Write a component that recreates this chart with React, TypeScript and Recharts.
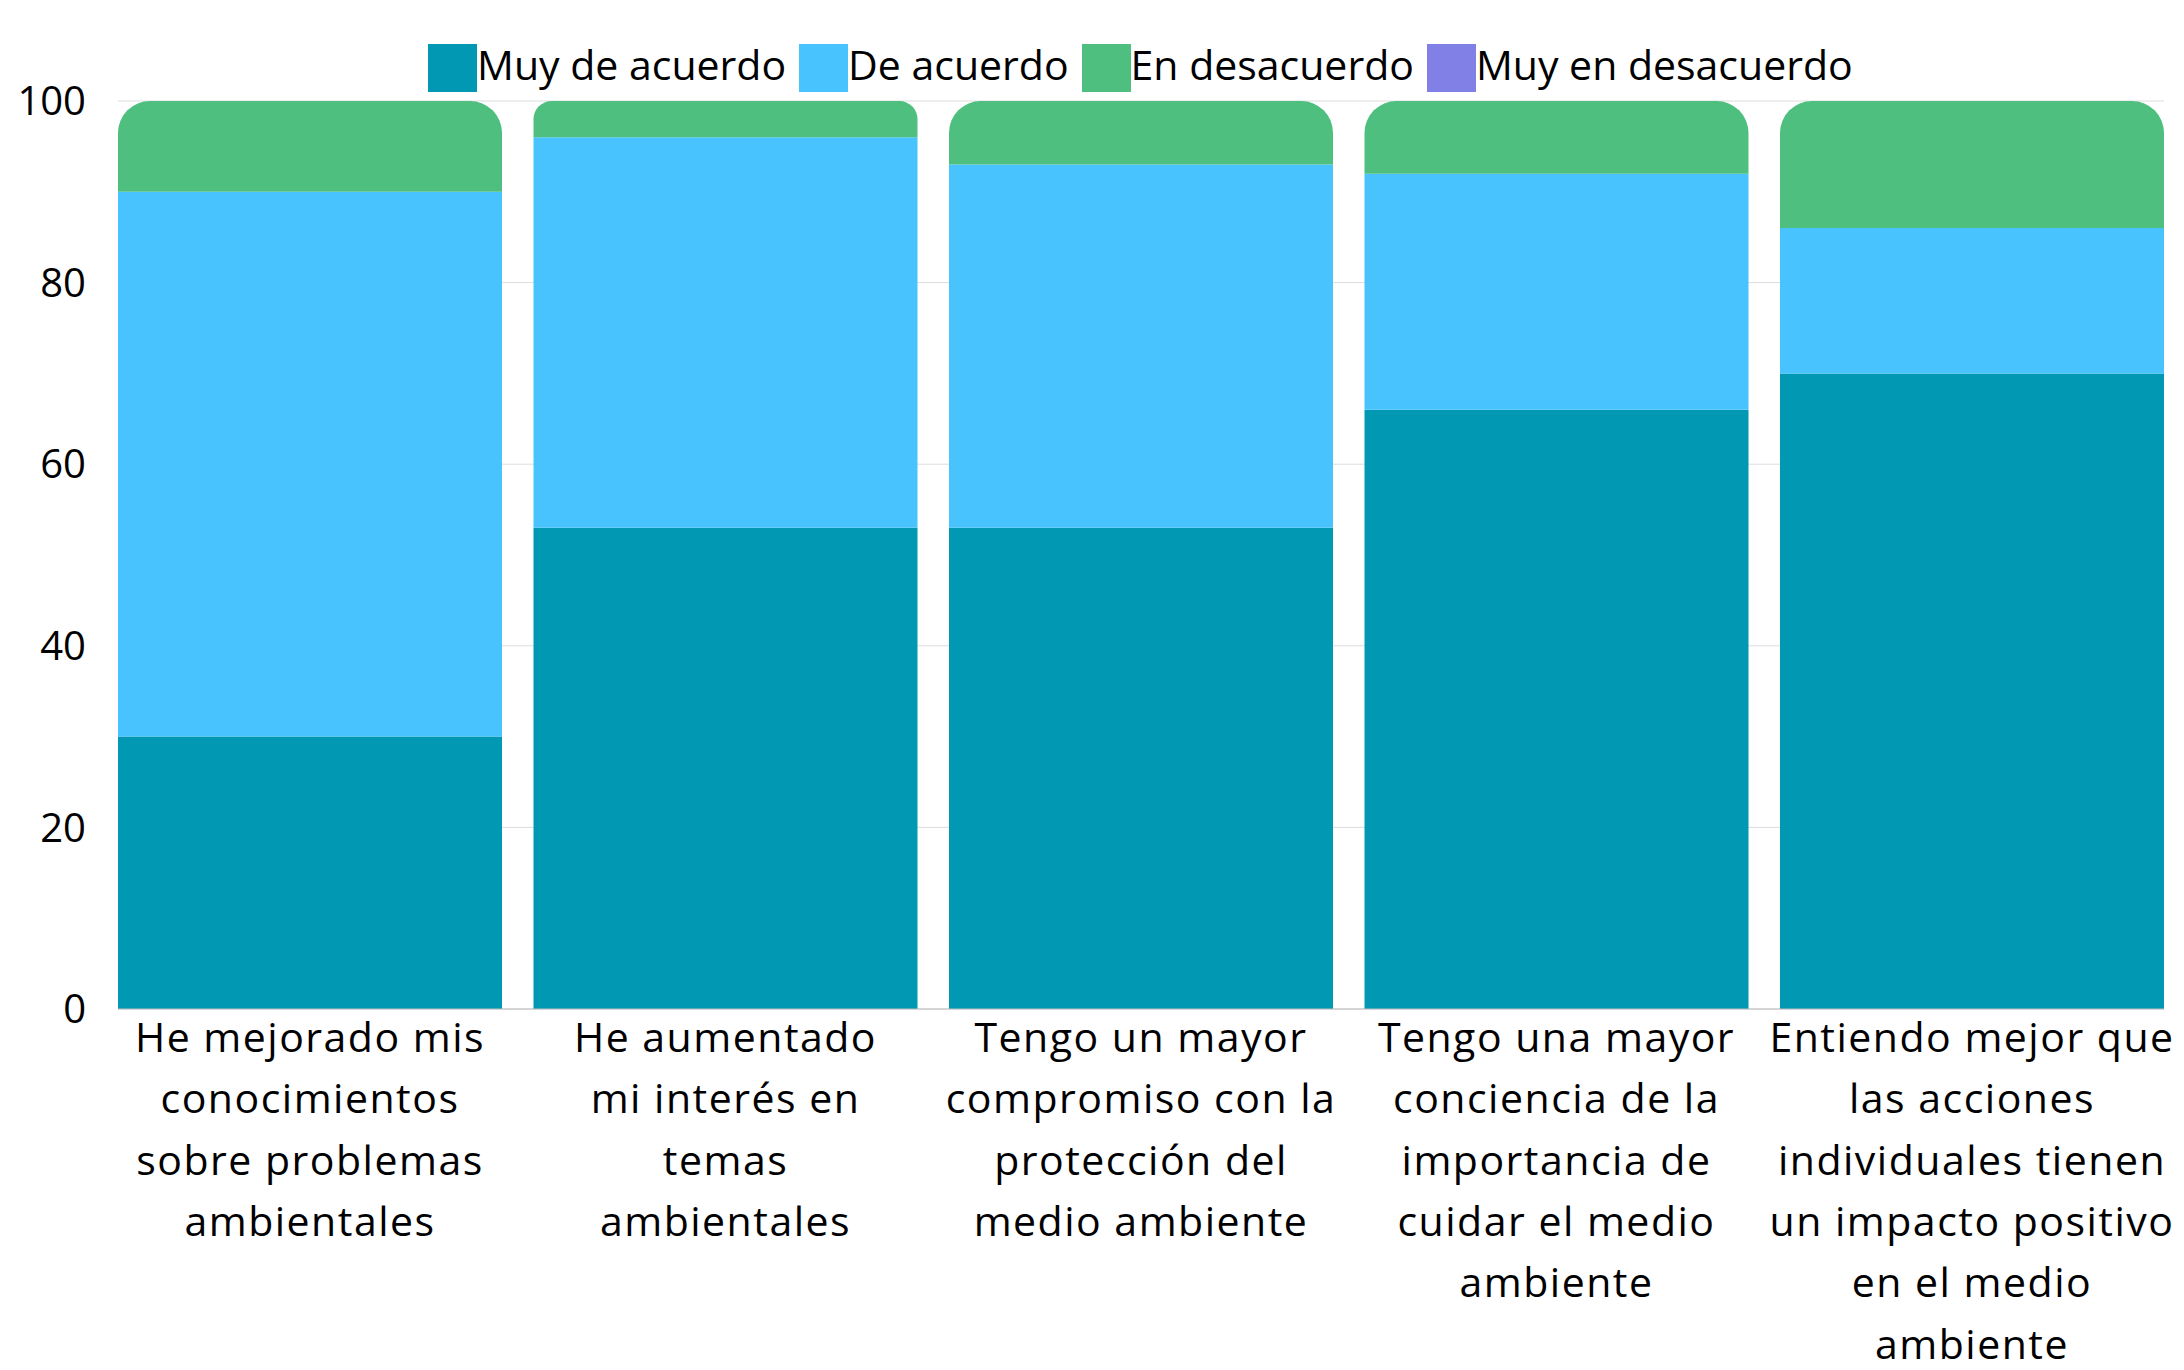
import { BarChart, Bar, XAxis, YAxis, CartesianGrid, Legend } from "recharts";

document.body.style.margin = "0";

const FONT = "'Open Sans', sans-serif";

// categories (line breaks as in the original labels)
const categories = [
  "He mejorado mis\nconocimientos\nsobre problemas\nambientales",
  "He aumentado\nmi interés en\ntemas\nambientales",
  "Tengo un mayor\ncompromiso con la\nprotección del\nmedio ambiente",
  "Tengo una mayor\nconciencia de la\nimportancia de\ncuidar el medio\nambiente",
  "Entiendo mejor que\nlas acciones\nindividuales tienen\nun impacto positivo\nen el medio\nambiente",
];

const muyDeAcuerdo = [30, 53, 53, 66, 70];
const deAcuerdo = [60, 43, 40, 26, 16];
const enDesacuerdo = [10, 4, 7, 8, 14];
const muyEnDesacuerdo = [0, 0, 0, 0, 0];

const yTicks = [0, 20, 40, 60, 80, 100];

const series = [
  { key: "muyDeAcuerdo", name: "Muy de acuerdo", color: "#0098b3" },
  { key: "deAcuerdo", name: "De acuerdo", color: "#49c3fe" },
  { key: "enDesacuerdo", name: "En desacuerdo", color: "#4ebf7f" },
  { key: "muyEnDesacuerdo", name: "Muy en desacuerdo", color: "#8080e6" },
];

const data = categories.map((category, i) => ({
  category,
  muyDeAcuerdo: muyDeAcuerdo[i],
  deAcuerdo: deAcuerdo[i],
  enDesacuerdo: enDesacuerdo[i],
  muyEnDesacuerdo: muyEnDesacuerdo[i],
}));

function CategoryTick({ x, y, payload }: any) {
  const lines = String(payload.value).split("\n");
  return (
    <text
      x={x}
      y={y}
      textAnchor="middle"
      fontFamily={FONT}
      fontSize={41}
      letterSpacing={1.5}
      fill="#000"
    >
      {lines.map((line, i) => (
        <tspan key={i} x={x} dy={i === 0 ? 43 : 61.3}>
          {line}
        </tspan>
      ))}
    </text>
  );
}

function LegendContent() {
  return (
    <div
      style={{
        height: 63,
        boxSizing: "border-box",
        paddingTop: 6,
        paddingLeft: 428,
        display: "flex",
        alignItems: "flex-start",
        fontFamily: FONT,
      }}
    >
      {series.map((s) => (
        <div key={s.key} style={{ display: "flex", alignItems: "center", marginRight: 13 }}>
          <span style={{ width: 49, height: 48, background: s.color, display: "inline-block" }} />
          <span
            style={{
              fontSize: 41,
              lineHeight: "48px",
              color: "#000",
              position: "relative",
              top: -4,
              whiteSpace: "nowrap",
            }}
          >
            {s.name}
          </span>
        </div>
      ))}
    </div>
  );
}

export default function App() {
  return (
    <div style={{ width: 2184, height: 1370, background: "#fff" }}>
      <BarChart
        width={2184}
        height={1370}
        data={data}
        margin={{ top: 38, right: 20, left: 0, bottom: 0 }}
        barCategoryGap={15.75}
      >
        <CartesianGrid vertical={false} stroke="#dcdcdc" />
        <Legend verticalAlign="top" content={<LegendContent />} />
        <XAxis
          dataKey="category"
          interval={0}
          height={361}
          tickSize={0}
          tickMargin={0}
          tickLine={false}
          axisLine={{ stroke: "#bdbdbd" }}
          padding={{ left: -15.75, right: -15.75 }}
          tick={<CategoryTick />}
        />
        <YAxis
          width={118}
          domain={[0, 100]}
          ticks={yTicks}
          interval={0}
          tickSize={0}
          tickMargin={32}
          tickLine={false}
          axisLine={false}
          tick={{ fontFamily: FONT, fontSize: 40, fill: "#000" }}
        />
        <Bar dataKey="muyDeAcuerdo" name="Muy de acuerdo" stackId="a" fill={series[0].color} isAnimationActive={false} />
        <Bar dataKey="deAcuerdo" name="De acuerdo" stackId="a" fill={series[1].color} isAnimationActive={false} />
        <Bar
          dataKey="enDesacuerdo"
          name="En desacuerdo"
          stackId="a"
          fill={series[2].color}
          radius={[32, 32, 0, 0]}
          isAnimationActive={false}
        />
        <Bar
          dataKey="muyEnDesacuerdo"
          name="Muy en desacuerdo"
          stackId="a"
          fill={series[3].color}
          isAnimationActive={false}
        />
      </BarChart>
    </div>
  );
}
